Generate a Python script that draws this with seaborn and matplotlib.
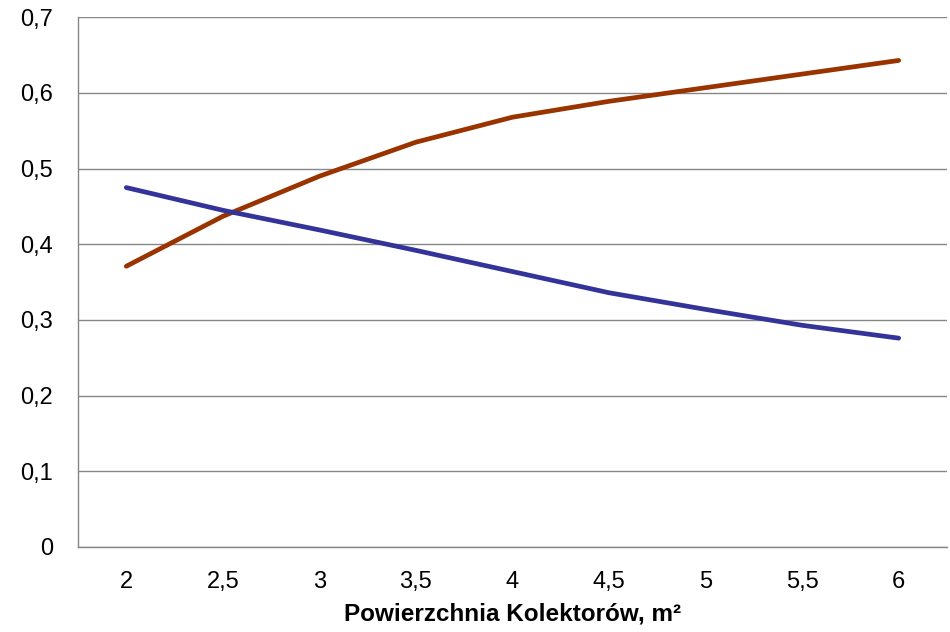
import matplotlib
matplotlib.use("Agg")
import matplotlib.pyplot as plt
import seaborn as sns
import pandas as pd
import numpy as np
from matplotlib.ticker import FixedLocator, FuncFormatter

categories = ["2", "2,5", "3", "3,5", "4", "4,5", "5", "5,5", "6"]
series_orange = [0.371, 0.437, 0.490, 0.535, 0.568, 0.589, 0.607, 0.625, 0.643]
series_blue = [0.475, 0.445, 0.419, 0.392, 0.364, 0.336, 0.314, 0.293, 0.276]
y_ticks = [0, 0.1, 0.2, 0.3, 0.4, 0.5, 0.6, 0.7]
x_label = "Powierzchnia Kolektorów, m²"

sns.set_theme(style="white")
plt.rcParams['font.family'] = ['Liberation Sans', 'DejaVu Sans']

df = pd.DataFrame({
    "x": categories * 2,
    "y": series_orange + series_blue,
    "s": ["A"] * len(categories) + ["B"] * len(categories),
})

fig = plt.figure(figsize=(9.5, 6.32), dpi=100)
ax = fig.add_axes([0.0821, 0.1345, 0.9968 - 0.0821, 0.9726 - 0.1345])

sns.lineplot(data=df, x="x", y="y", hue="s", palette={"A": "#993300", "B": "#333399"},
             linewidth=3.4, ax=ax, legend=False, sort=False)
for ln in ax.lines:
    ln.set_solid_capstyle("round")

ax.set_xlim(-0.5, len(categories) - 0.5)
ax.set_ylim(0, 0.7)
ax.set_yticks(y_ticks)
ax.yaxis.set_major_formatter(FuncFormatter(lambda v, p: f"{v:.1f}".replace(".", ",") if v != 0 else "0"))
ax.set_xticks(range(len(categories)))
ax.set_xticklabels(categories)
ax.xaxis.set_minor_locator(FixedLocator(np.arange(-0.5, len(categories), 1.0)))
ax.tick_params(axis="x", which="major", length=0, pad=17, labelsize=17, colors="black")
ax.tick_params(axis="x", which="minor", length=6, width=1, color="#868686", direction="out")
ax.tick_params(axis="y", which="major", length=0, pad=18, labelsize=17, colors="black")

ax.grid(axis="y", color="#868686", linewidth=1)
ax.set_axisbelow(True)
for side in ["top", "right"]:
    ax.spines[side].set_visible(False)
for side in ["left", "bottom"]:
    ax.spines[side].set_color("#868686")
    ax.spines[side].set_linewidth(1)

ax.set_xlabel(x_label, fontsize=17.5, fontweight="bold", labelpad=7, color="black")
ax.set_ylabel("")

fig.savefig("out.png", dpi=100)
